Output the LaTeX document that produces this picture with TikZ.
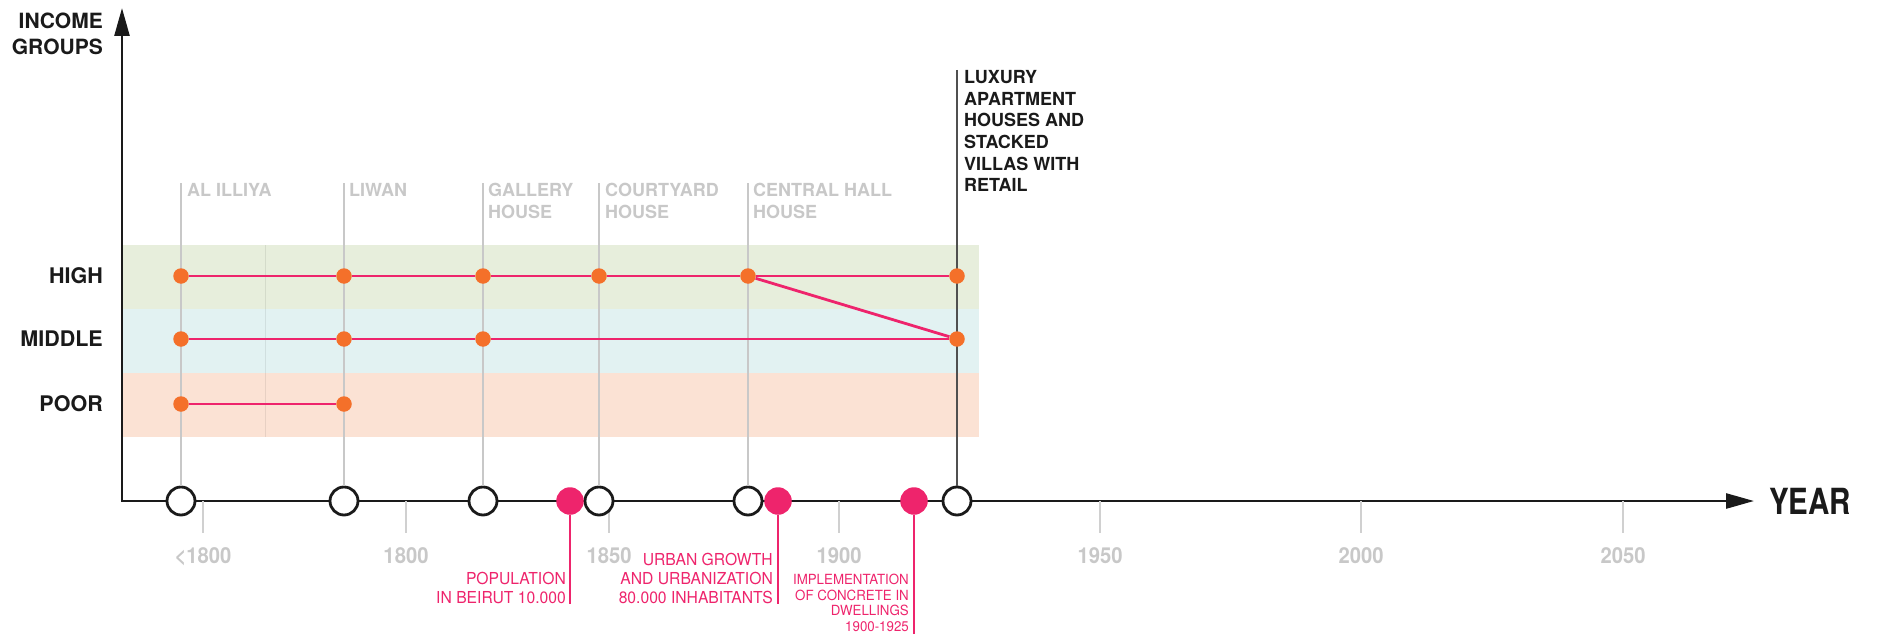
\documentclass[tikz,border=0pt]{standalone}
\usepackage{fontspec}
\setmainfont{TeX Gyre Heros}
\newfontfamily\narrowfont[FakeStretch=0.82]{TeX Gyre Heros}
\newfontfamily\tickfont[FakeStretch=0.92]{TeX Gyre Heros}
\newfontfamily\thinfont[FakeStretch=0.95]{TeX Gyre Heros}
\usetikzlibrary{arrows.meta, positioning}
\definecolor{ink}{RGB}{26,26,26}
\definecolor{bandhigh}{RGB}{231,238,220}
\definecolor{bandmid}{RGB}{226,242,242}
\definecolor{bandpoor}{RGB}{251,226,212}
\definecolor{dotorange}{RGB}{244,112,42}
\definecolor{linepink}{RGB}{238,36,108}
\definecolor{labelgrey}{RGB}{200,200,200}
\definecolor{guidedark}{RGB}{80,80,80}
\tikzset{
	x=1pt, y=-1pt, % una unidad = un pixel de la referencia
	>={Triangle[length=28pt, width=15pt]}, % puntas de los ejes
	axis/.style={draw=ink, line width=2.6pt, line join=miter},
	tick/.style={draw=labelgrey!85, line width=1.4pt},
	guide/.style={draw=labelgrey, line width=1.5pt},
	house/.style={circle, draw=ink, line width=2.8pt, fill=white, minimum size=28pt, inner sep=0pt},
	event/.style={circle, fill=linepink, minimum size=27.5pt, inner sep=0pt},
	point/.style={circle, fill=dotorange, minimum size=15.5pt, inner sep=0pt},
	dataline/.style={draw=linepink, line width=2.8pt},
	callout/.style={draw=linepink, line width=2.5pt},
	yearlabel/.style={anchor=base, inner sep=0pt, text=labelgrey, font=\tickfont\bfseries\fontsize{22}{26}\selectfont},
	houselabel/.style={anchor=north west, align=left, inner sep=0pt, text=labelgrey, font=\bfseries\fontsize{18}{22}\selectfont},
	grouplabel/.style={anchor=east, inner sep=0pt, text=ink, font=\bfseries\fontsize{21.5}{26}\selectfont},
	eventlabel/.style={align=right, inner sep=0pt, text=linepink, font=\thinfont\fontsize{16.5}{19}\selectfont}
}
\begin{document}
\begin{tikzpicture}
\useasboundingbox (0,0) rectangle (1877,634);
% franjas de ingresos
\fill[bandhigh] (122,245) rectangle (979,309);
\fill[bandmid] (122,309) rectangle (979,373);
\fill[bandpoor] (122,373) rectangle (979,437);
\draw[black, opacity=0.08, line width=1pt] (265,245) -- (265,437);
% ejes
\coordinate (origin) at (122,501);
\coordinate (ytop) at (122,8);
\coordinate (xend) at (1754,501);
\draw[axis, <->] (ytop) -- (origin) -- (xend);
\foreach \x/\yr in {203/{<1800}, 406/1800, 609/1850, 839/1900, 1100/1950, 1361/2000, 1623/2050} {
	\draw[tick] (\x,501) -- (\x,533);
	\node[yearlabel] (yr\x) at (\x,563) {\yr};
}
% tipos de casa y eventos sobre el eje
\foreach \i/\x in {1/181, 2/344, 3/483, 4/599, 5/748, 6/957}
	\node[house] (c\i) at (\x,501) {};
\node[event] (e1) at (570,501) {};
\node[event] (e2) at (778,501) {};
\node[event] (e3) at (914,501) {};
\foreach \i/\x in {1/181, 2/344, 3/483, 4/599, 5/748} {
	\coordinate (top\i) at (\x,183);
	\draw[guide] (top\i) -- (c\i);
}
\coordinate (top6) at (957,70);
\draw[guide, draw=guidedark, line width=2pt] (top6) -- (c6);
% puntos por grupo
\foreach \i/\x in {1/181, 2/344, 3/483, 4/599, 5/748, 6/957}
	\node[point] (h\i) at (\x,276) {};
\foreach \i/\x in {1/181, 2/344, 3/483, 6/957}
	\node[point] (m\i) at (\x,339) {};
\foreach \i/\x in {1/181, 2/344}
	\node[point] (p\i) at (\x,404) {};
\draw[dataline]	(h1) edge (h2)
		(h2) edge (h3)
		(h3) edge (h4)
		(h4) edge (h5)
		(h5) edge (h6)
		(h5) edge (m6)
		(m1) edge (m2)
		(m2) edge (m3)
		(m3) edge (m6)
		(p1) edge (p2)
		;
% textos
\node[anchor=north east, align=right, inner sep=0pt, text=ink, font=\bfseries\fontsize{21}{26}\selectfont] (income) at (103,13) {INCOME\\GROUPS};
\node[grouplabel] (high) at (103,276) {HIGH};
\node[grouplabel] (middle) at (103,339) {MIDDLE};
\node[grouplabel] (poor) at (103,404) {POOR};
\node[right=15pt of xend, inner sep=0pt, text=ink, font=\narrowfont\bfseries\fontsize{36}{40}\selectfont] (year) {YEAR};
\node[houselabel] (lab1) at ([xshift=6pt]top1) {AL ILLIYA};
\node[houselabel] (lab2) at ([xshift=5pt]top2) {LIWAN};
\node[houselabel] (lab3) at ([xshift=5pt]top3) {GALLERY\\HOUSE};
\node[houselabel] (lab4) at ([xshift=6pt]top4) {COURTYARD\\HOUSE};
\node[houselabel] (lab5) at ([xshift=5pt]top5) {CENTRAL HALL\\HOUSE};
\node[houselabel, text=ink, font=\bfseries\fontsize{18}{21.7}\selectfont] (lab6) at ([xshift=7pt]top6) {LUXURY\\APARTMENT\\HOUSES AND\\STACKED\\VILLAS WITH\\RETAIL};
% eventos
\coordinate (e1end) at (570,604);
\coordinate (e2end) at (778,604);
\coordinate (e3end) at (914,634);
\draw[callout] (e1) -- (e1end);
\draw[callout] (e2) -- (e2end);
\draw[callout] (e3) -- (e3end);
\node[eventlabel, anchor=south east] (ev1) at ([xshift=-4pt]e1end) {POPULATION\\IN BEIRUT 10.000};
\node[eventlabel, anchor=south east] (ev2) at ([xshift=-5pt]e2end) {URBAN GROWTH\\AND URBANIZATION\\80.000 INHABITANTS};
\node[eventlabel, anchor=north east, font=\thinfont\fontsize{14}{15.5}\selectfont] (ev3) at (909,574) {IMPLEMENTATION\\OF CONCRETE IN\\DWELLINGS\\1900-1925};
\end{tikzpicture}
\end{document}
